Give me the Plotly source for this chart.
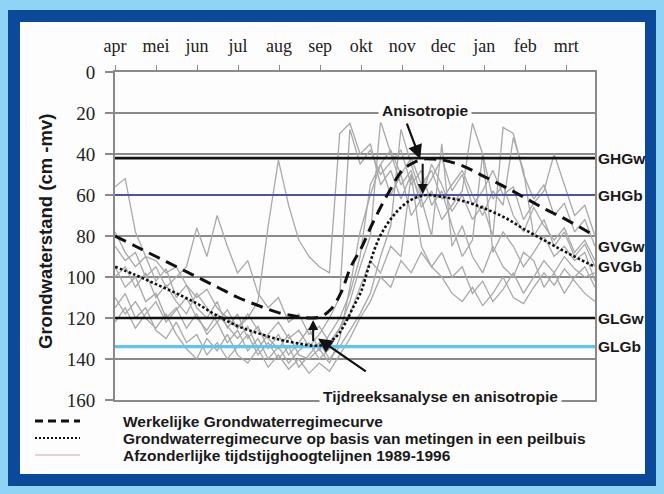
import numpy as np
import plotly.graph_objects as go

# ---------------- data ----------------
months = ['apr', 'mei', 'jun', 'jul', 'aug', 'sep', 'okt', 'nov', 'dec', 'jan', 'feb', 'mrt']
month_pos = list(range(12))
depth_ticks = [0, 20, 40, 60, 80, 100, 120, 140, 160]

# Werkelijke Grondwaterregimecurve (dashed)
werkelijk_months = [0, 0.5, 1, 1.5, 2, 2.5, 3, 3.5, 4, 4.5, 4.75, 5, 5.25, 5.5, 5.75, 6, 6.25, 6.5,
                    6.75, 7, 7.25, 7.5, 7.75, 8, 8.5, 9, 9.5, 10, 10.5, 11, 11.7]
werkelijk = [80, 85, 90, 95, 100, 105, 110, 114, 117.5, 119.5, 120, 119.5, 116, 108, 95, 86, 75, 65,
             56, 48, 44.5, 42.5, 42.5, 43, 46, 51, 56, 61.5, 67, 72, 80]

# Grondwaterregimecurve op basis van metingen in een peilbuis (dotted)
peilbuis_months = [0, 0.5, 1, 1.5, 2, 2.5, 3, 3.5, 4, 4.5, 4.85, 5.1, 5.4, 5.6, 5.8, 6, 6.2, 6.45,
                   6.75, 7, 7.25, 7.6, 8, 8.5, 9, 9.5, 10, 10.5, 11, 11.7]
peilbuis = [95, 99, 103.5, 108, 113, 119, 124, 127.5, 130.5, 132.5, 133.5, 133, 129, 123, 115, 107, 94, 80.5,
            71, 65.5, 62, 60, 61, 63, 66.5, 71, 77, 82.5, 88, 95]

# Afzonderlijke tijdstijghoogtelijnen 1989-1996 (sampled twice a month)
sample_months = np.linspace(0, 11.7, 48)
lijn_1989 = [56, 52, 78, 90, 92, 98, 95, 104, 110, 106, 115, 120, 125, 118, 126, 130, 135, 128, 138, 140,
             135, 142, 130, 105, 78, 60, 45, 38, 50, 42, 55, 48, 62, 55, 48, 60, 70, 58, 65, 32,
             48, 80, 72, 85, 78, 90, 84, 95]
lijn_1990 = [100, 95, 105, 98, 110, 104, 112, 118, 108, 115, 122, 116, 125, 120, 112, 75, 43, 65, 82, 90,
             95, 98, 30, 25, 40, 35, 55, 48, 62, 50, 62, 80, 35, 85, 75, 90, 98, 85, 95, 100,
             88, 92, 105, 98, 108, 100, 95, 105]
lijn_1991 = [85, 92, 88, 100, 95, 105, 100, 95, 76, 90, 70, 85, 98, 92, 108, 115, 110, 122, 118, 128,
             124, 132, 125, 112, 95, 80, 24, 40, 55, 48, 66, 58, 72, 65, 58, 25, 40, 62, 55, 70,
             78, 66, 75, 82, 76, 88, 82, 92]
lijn_1992 = [110, 118, 112, 120, 125, 118, 128, 135, 140, 130, 136, 128, 138, 142, 135, 144, 138, 145, 140, 147,
             142, 146, 138, 130, 120, 112, 100, 105, 92, 98, 88, 95, 100, 108, 112, 105, 114, 108, 100, 110,
             113, 105, 98, 104, 96, 102, 108, 112]
lijn_1993 = [78, 88, 95, 90, 102, 96, 110, 104, 115, 120, 112, 125, 118, 130, 124, 135, 128, 138, 132, 125,
             136, 128, 120, 108, 90, 55, 45, 60, 50, 70, 62, 45, 55, 68, 60, 72, 65, 80, 27, 30,
             50, 62, 55, 70, 64, 78, 72, 85]
lijn_1994 = [95, 105, 100, 112, 108, 120, 115, 125, 118, 128, 122, 132, 126, 136, 130, 140, 134, 142, 136, 132,
             140, 135, 125, 118, 105, 92, 98, 85, 90, 50, 85, 95, 88, 100, 95, 108, 102, 112, 106, 98,
             108, 100, 92, 98, 90, 96, 100, 98]
lijn_1995 = [115, 108, 120, 115, 126, 130, 122, 132, 128, 138, 132, 140, 134, 128, 138, 132, 140, 134, 144, 138,
             132, 140, 134, 126, 118, 108, 90, 75, 28, 45, 60, 52, 42, 58, 50, 65, 58, 48, 60, 56,
             72, 64, 58, 40, 55, 70, 65, 80]
lijn_1996 = [122, 115, 125, 118, 112, 122, 116, 110, 120, 126, 118, 124, 130, 124, 135, 128, 122, 130, 126, 134,
             128, 120, 110, 28, 45, 38, 50, 44, 38, 55, 48, 65, 58, 75, 90, 82, 40, 88, 78, 85,
             95, 88, 80, 90, 85, 92, 88, 102]
jaarlijnen = [lijn_1989, lijn_1990, lijn_1991, lijn_1992, lijn_1993, lijn_1994, lijn_1995, lijn_1996]
jaren = [1989, 1990, 1991, 1992, 1993, 1994, 1995, 1996]

# Characteristic groundwater levels (cm -mv)
level_names = ['GHGw', 'GHGb', 'GLGw', 'GLGb']
level_values = [42, 60, 120, 134]
level_colors = ['#111111', '#4a55a8', '#111111', '#5cc6ee']
level_widths = [2.6, 2.2, 2.6, 3.2]

# Right-hand labels
right_labels = ['GHGw', 'GHGb', 'GVGw', 'GVGb', 'GLGw', 'GLGb']
right_label_y = [42, 60, 85, 95, 120, 134]

X_MAX = 11.7

# ---------------- figure ----------------
W, H = 664, 494
L, R, T, B = 115, 69, 72, 94
pw, ph = W - L - R, H - T - B


def px(xp):
    return (xp - L) / pw


def py(yp):
    return (H - B - yp) / ph


fig = go.Figure()

for jaar, vals in zip(jaren, jaarlijnen):
    fig.add_trace(go.Scatter(x=sample_months, y=vals, mode='lines',
                             line=dict(color='#a9a9a9', width=1.3),
                             name=str(jaar), showlegend=False, hoverinfo='skip'))

for name, val, col, lw in zip(level_names, level_values, level_colors, level_widths):
    fig.add_trace(go.Scatter(x=[0, X_MAX], y=[val, val], mode='lines',
                             line=dict(color=col, width=lw), showlegend=False, name=name))

fig.add_trace(go.Scatter(x=werkelijk_months, y=werkelijk, mode='lines',
                         line=dict(color='#111111', width=3, dash='12px,7px', shape='spline'),
                         showlegend=False, name='Werkelijke Grondwaterregimecurve'))
fig.add_trace(go.Scatter(x=peilbuis_months, y=peilbuis, mode='lines',
                         line=dict(color='#111111', width=2.6, dash='2.6px,2.2px', shape='spline'),
                         showlegend=False, name='Grondwaterregimecurve peilbuis'))

grid_col = '#8a8a8a'
fig.update_xaxes(range=[0, X_MAX], side='top', tickvals=month_pos, ticktext=months,
                 ticks='outside', ticklen=5, tickcolor=grid_col, tickwidth=1.3,
                 showgrid=False, zeroline=False, showline=True, mirror=True,
                 linecolor=grid_col, linewidth=2,
                 tickfont=dict(family='Liberation Serif', size=18, color='#222222'),
                 ticklabelstandoff=6)
fig.update_yaxes(range=[160, 0], tickvals=depth_ticks, ticks='outside', ticklen=8,
                 tickcolor=grid_col, tickwidth=1.5,
                 showgrid=True, gridcolor=grid_col, gridwidth=1.7, zeroline=False,
                 showline=True, mirror=True, linecolor=grid_col, linewidth=2,
                 tickfont=dict(family='Liberation Serif', size=19, color='#222222'),
                 ticklabelstandoff=6)

shapes = [
    dict(type='rect', xref='paper', yref='paper', x0=px(8), x1=px(656), y0=py(486), y1=py(10),
         fillcolor='#0b4a98', line=dict(width=0), layer='below'),
    dict(type='rect', xref='paper', yref='paper', x0=px(20), x1=px(645), y0=py(474), y1=py(22),
         fillcolor='#fdfdfd', line=dict(width=0), layer='below'),
    # legend samples
    dict(type='line', xref='paper', yref='paper', x0=px(35), x1=px(80), y0=py(421), y1=py(421),
         line=dict(color='#111111', width=3, dash='8px,5px')),
    dict(type='line', xref='paper', yref='paper', x0=px(35), x1=px(80), y0=py(438), y1=py(438),
         line=dict(color='#111111', width=2, dash='2px,2px')),
    dict(type='line', xref='paper', yref='paper', x0=px(35), x1=px(80), y0=py(455), y1=py(455),
         line=dict(color='#c9a6a6', width=1.2)),
]

lab_font = dict(family='Liberation Sans', size=15.5, color='#1a1a1a')
annotations = []
# y-axis title
annotations.append(dict(xref='paper', yref='paper', x=px(45), y=py(232), xanchor='center', yanchor='middle',
                        text='<b>Grondwaterstand (cm -mv)</b>', textangle=-90, showarrow=False,
                        font=dict(family='Liberation Sans', size=18.5, color='#1a1a1a')))
# right labels
for txt, yv in zip(right_labels, right_label_y):
    annotations.append(dict(xref='paper', yref='y', x=1.0, y=yv, xanchor='left', yanchor='middle', xshift=1,
                            text='<b>%s</b>' % txt, showarrow=False, font=lab_font))
# legend texts
legend_texts = ['Werkelijke Grondwaterregimecurve',
                'Grondwaterregimecurve op basis van metingen in een peilbuis',
                'Afzonderlijke tijdstijghoogtelijnen 1989-1996']
for txt, yp in zip(legend_texts, [421, 438, 455]):
    annotations.append(dict(xref='paper', yref='paper', x=px(121), y=py(yp), xanchor='left', yanchor='middle',
                            text='<b>%s</b>' % txt, showarrow=False, font=lab_font))
# arrows
arrow_specs = [
    # (head x, head y, tail x, tail y, side, width, size)
    (7.44, 42.5, 7.1, 24.5, 'end', 2.2, 1.3),
    (7.5, 59.5, 7.5, 44, 'end', 2.0, 1.0),
    (4.95, 130, 6.15, 146.5, 'end', 2.2, 1.3),
    (4.83, 121, 4.83, 132, 'end', 2.0, 1.0),
]
for hx, hy, tx, ty, side, aw, asz in arrow_specs:
    annotations.append(dict(x=hx, y=hy, ax=tx, ay=ty, xref='x', yref='y', axref='x', ayref='y',
                            text='', showarrow=True, arrowhead=2, arrowsize=asz, arrowwidth=aw,
                            arrowcolor='#111111', arrowside=side))
# text boxes on grid lines
annotations.append(dict(x=7.56, y=20, xref='x', yref='y', yanchor='bottom', yshift=-10,
                        text='<b>Anisotropie</b>', showarrow=False, bgcolor='#fdfdfd', borderpad=3,
                        font=lab_font))
annotations.append(dict(x=7.93, y=160, xref='x', yref='y', yanchor='bottom', yshift=-9,
                        text='<b>Tijdreeksanalyse en anisotropie</b>', showarrow=False,
                        bgcolor='#fdfdfd', borderpad=3, font=lab_font))

fig.update_layout(width=W, height=H, margin=dict(l=L, r=R, t=T, b=B),
                  paper_bgcolor='#8fd4f4', plot_bgcolor='rgba(0,0,0,0)',
                  shapes=shapes, annotations=annotations, showlegend=False)

fig.write_html('out.html', config={'displayModeBar': False},
               post_script="document.body.style.margin='0px';"
                           "document.body.style.overflow='hidden';"
                           "document.body.style.background='#8fd4f4';")
